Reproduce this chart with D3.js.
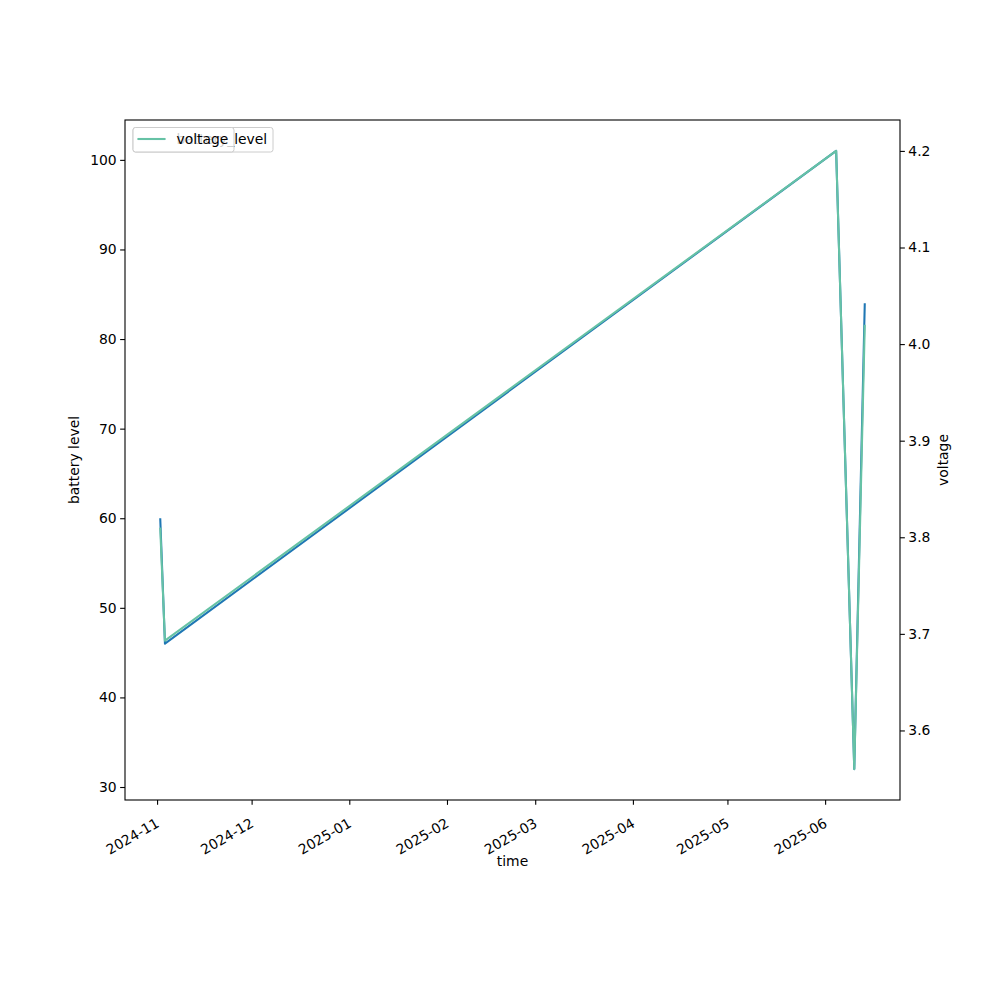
<!DOCTYPE html>
<html><head><meta charset="utf-8">
<script src="https://cdn.jsdelivr.net/npm/d3@7"></script>
<style>body{margin:0;background:#fff}svg text{font-family:"DejaVu Sans",sans-serif}</style>
</head><body>
<script>
const times = ["2024-11-02T00:00","2024-11-03T12:00","2025-06-04T12:00","2025-06-10T06:00","2025-06-13T14:00"];
const batteryLevel = [60, 46, 101, 32, 84];
const voltage = [3.81, 3.693, 4.2, 3.56, 4.02];
const leftTicks = [30,40,50,60,70,80,90,100];
const rightTicks = [3.6,3.7,3.8,3.9,4.0,4.1,4.2];
const xTickLabels = ["2024-11","2024-12","2025-01","2025-02","2025-03","2025-04","2025-05","2025-06"];

const W=1000,H=1000;
const L=125,R=900,T=120,B=800;
const fs = 13.9;
const svg = d3.select("body").append("svg").attr("width",W).attr("height",H);
const parse = d3.isoParse;
const dates = times.map(parse);

function padDomain(ext){const r=ext[1]-ext[0];return [ext[0]-r*0.05, ext[1]+r*0.05];}
const tx = d3.extent(dates).map(d=>+d);
const x = d3.scaleTime().domain(padDomain(tx).map(v=>new Date(v))).range([L,R]);
const yL = d3.scaleLinear().domain(padDomain(d3.extent(batteryLevel))).range([B,T]);
const yR = d3.scaleLinear().domain(padDomain(d3.extent(voltage))).range([B,T]);

const blue="#1f77b4", teal="#66c2a5";

const line1 = d3.line().x((d,i)=>x(dates[i])).y(d=>yL(d));
const line2 = d3.line().x((d,i)=>x(dates[i])).y(d=>yR(d));
svg.append("path").attr("d",line1(batteryLevel)).attr("fill","none").attr("stroke",blue).attr("stroke-width",2.08).attr("stroke-linejoin","round");
svg.append("path").attr("d",line2(voltage)).attr("fill","none").attr("stroke",teal).attr("stroke-width",2.08).attr("stroke-linejoin","round");

// axes
const xTickDates = xTickLabels.map(s=>parse(s+"-01"));
const gx = svg.append("g").attr("transform",`translate(0,${B})`)
  .call(d3.axisBottom(x).tickValues(xTickDates).tickFormat((d,i)=>xTickLabels[i]).tickSize(4.86).tickPadding(3.5));
gx.selectAll("text").attr("x",0).attr("y",0).attr("dx",0).attr("dy",0)
  .attr("transform","translate(2.5,26) rotate(-30)").attr("text-anchor","end");
const gl = svg.append("g").attr("transform",`translate(${L},0)`)
  .call(d3.axisLeft(yL).tickValues(leftTicks).tickSize(4.86).tickPadding(3.5));
const gr = svg.append("g").attr("transform",`translate(${R},0)`)
  .call(d3.axisRight(yR).tickValues(rightTicks).tickFormat(d3.format(".1f")).tickSize(4.86).tickPadding(3.5));
[gx,gl,gr].forEach(g=>{g.selectAll("text").attr("font-size",fs).attr("fill","#000");g.selectAll("line").attr("stroke","#000").attr("stroke-width",1.1);g.select(".domain").remove();});
svg.append("rect").attr("x",L).attr("y",T).attr("width",R-L).attr("height",B-T).attr("fill","none").attr("stroke","#000").attr("stroke-width",1.1);

svg.append("text").attr("x",(L+R)/2).attr("y",866).attr("text-anchor","middle").attr("font-size",fs).text("time");
svg.append("text").attr("transform",`translate(79,${(T+B)/2}) rotate(-90)`).attr("text-anchor","middle").attr("font-size",fs).text("battery level");
svg.append("text").attr("transform",`translate(948,${(T+B)/2}) rotate(-90)`).attr("text-anchor","middle").attr("font-size",fs).text("voltage");

// legends (two overlapping, as in the reference)
function legend(label,color,w){
  const g=svg.append("g");
  g.append("rect").attr("x",133).attr("y",127.5).attr("width",w).attr("height",24.5).attr("rx",2.5)
   .attr("fill","#fff").attr("fill-opacity",0.8).attr("stroke","#cccccc").attr("stroke-width",1);
  g.append("line").attr("x1",137.5).attr("x2",165.5).attr("y1",139).attr("y2",139).attr("stroke",color).attr("stroke-width",2.08);
  g.append("text").attr("x",176.5).attr("y",144).attr("font-size",fs).text(label);
}
legend("battery_level",blue,140);
legend("voltage",teal,101);
</script>
</body></html>
